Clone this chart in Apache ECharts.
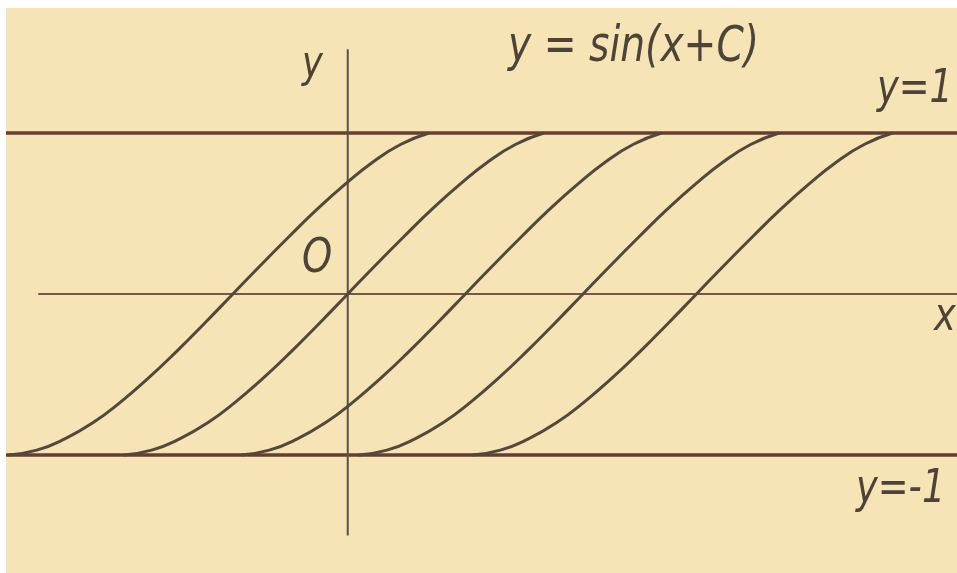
<!DOCTYPE html>
<html>
<head>
<meta charset="utf-8">
<title>y = sin(x+C)</title>
<script src="https://cdn.jsdelivr.net/npm/echarts@6/dist/echarts.min.js"></script>
<style>
  html, body { margin: 0; padding: 0; background: #fff; }
  #chart { width: 957px; height: 573px; }
</style>
</head>
<body>
<div id="chart"></div>
<script>
// 曲线族 y = sin(x + C)，横轴单位为弧度
// 每条曲线在 x = -C 处穿过 x 轴（从左到右）
var shiftC = [0.82, 0, -0.84, -1.68, -2.49];
// 一条曲线的形状（从图上读的）：相对穿过点的偏移 u 和对应的 y，从 -1 升到 1
var shapeU = [-1.6, -1.4, -1.2, -1.0, -0.8, -0.6, -0.4, -0.2, 0, 0.2, 0.4, 0.6, 0.8, 1.0, 1.2, 1.4];
var shapeY = [-1, -0.97, -0.9, -0.8, -0.67, -0.52, -0.355, -0.18, 0, 0.18, 0.355, 0.525, 0.68, 0.82, 0.93, 1];
// 上下界线 y=1, y=-1
var boundY = [1, -1];
// 坐标范围
var xRange = [-2.44, 4.35];
var yRange = [-1.733, 1.776];
var xAxisFrom = -2.21;          // x 轴从这里画起
var yAxisSpan = [-1.5, 1.52];   // y 轴上下端

var ink = '#4d4336';
var fontFamily = 'DejaVu Sans';

function lineSeries(data, color, width) {
    return {
        type: 'line',
        data: data,
        showSymbol: false,
        silent: true,
        lineStyle: { color: color, width: width },
        z: 2
    };
}

var series = [];
// 上下界
for (var i = 0; i < boundY.length; i++) {
    series.push(lineSeries([[xRange[0], boundY[i]], [xRange[1], boundY[i]]], '#663f31', 3.5));
}
// x 轴、y 轴
series.push(lineSeries([[xAxisFrom, 0], [xRange[1], 0]], '#76574a', 2));
series.push(lineSeries([[0, yAxisSpan[0]], [0, yAxisSpan[1]]], '#5a5146', 2));
// 五条曲线
for (var c = 0; c < shiftC.length; c++) {
    var pts = [];
    for (var k = 0; k < shapeU.length; k++) {
        pts.push([shapeU[k] - shiftC[c], shapeY[k]]);
    }
    var s = lineSeries(pts, '#54483a', 3);
    s.smooth = 0.5;
    s.z = 3;
    series.push(s);
}

function label(text, x, y, size) {
    return {
        type: 'text',
        x: x,
        y: y,
        scaleX: 0.8,
        z: 10,
        style: {
            text: text,
            x: 0,
            y: 0,
            fill: ink,
            font: 'italic ' + size + 'px ' + fontFamily,
            textVerticalAlign: 'middle'
        }
    };
}

var myChart = echarts.init(document.getElementById('chart'));
myChart.setOption({
    animation: false,
    backgroundColor: '#ffffff',
    grid: {
        left: 6,
        right: 0,
        top: 8,
        bottom: 0,
        show: true,
        backgroundColor: '#f6e4b6',
        borderWidth: 0
    },
    xAxis: {
        type: 'value',
        min: xRange[0],
        max: xRange[1],
        show: false
    },
    yAxis: {
        type: 'value',
        min: yRange[0],
        max: yRange[1],
        show: false
    },
    graphic: [
        label('y = sin(x+C)', 508, 48, 49),
        label('y', 302, 66, 44),
        label('O', 302, 260, 48),
        label('y=1', 877, 90, 46),
        label('x', 934, 318, 46),
        label('y=-1', 856, 490, 46)
    ],
    series: series
});
window.addEventListener('resize', myChart.resize);
</script>
</body>
</html>
